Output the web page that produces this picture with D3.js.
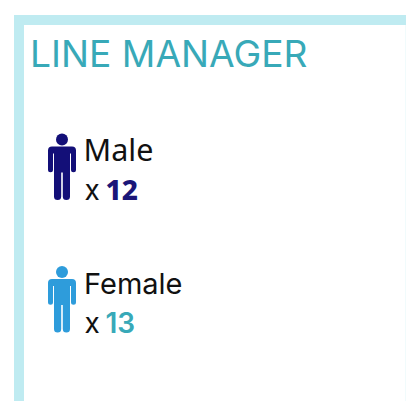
<!DOCTYPE html>
<html>
<head>
<meta charset="utf-8">
<script src="https://cdn.jsdelivr.net/npm/d3@7"></script>
<style>
html, body { margin: 0; padding: 0; background: #fff; overflow: hidden; }
svg { display: block; }
</style>
</head>
<body>
<svg width="406" height="401"></svg>
<script>
// data
var title = "LINE MANAGER";
var categories = ["Male", "Female"];
var counts = [12, 13];
var iconColors = ["#130f78", "#2e9cdb"];
var countColors = ["#1a1678", "#38a9b8"];
var labelFonts = ["'Noto Sans', sans-serif", "Inter, sans-serif"];
var labelSizes = [30.5, 29];
var labelLeft = [83.5, 84];
var countFonts = ["'Noto Sans', sans-serif", "Inter, sans-serif"];
var countWeights = [800, 600];

var svg = d3.select("svg"),
    width = +svg.attr("width"),
    height = +svg.attr("height");

// the frame only shows on top and left, runs off the page on the other sides
svg.append("path")
    .attr("d", "M19,401V20H406")
    .attr("fill", "none")
    .attr("stroke", "#bfebf1")
    .attr("stroke-width", 10);

// thin tail of the frame on the right edge
svg.append("rect")
    .attr("x", 405).attr("y", 25).attr("width", 1).attr("height", 376)
    .attr("fill", "#f1fbfc");

svg.append("text")
    .attr("x", 30)
    .attr("y", 67)
    .attr("font-family", "Inter, sans-serif")
    .attr("font-size", 37.2)
    .attr("fill", "#38a9b8")
    .text(title);

// rows are spaced by a point scale
var y = d3.scalePoint().domain(categories).range([0, 132.5]);

var row = svg.append("g")
    .selectAll("g")
    .data(categories)
    .enter().append("g")
    .attr("transform", function (d) { return "translate(0," + y(d) + ")"; });

// person icon
var personPath = "M52,146.5H72Q76,146.5 76,150.5V169.8A2.5,2.5 0 0 1 71,169.8V153.5H70V196.5A3.6,3.6 0 0 1 62.8,196.5V172.5H61.2V196.5A3.6,3.6 0 0 1 54,196.5V153.5H53V169.8A2.5,2.5 0 0 1 48,169.8V150.5Q48,146.5 52,146.5Z";

row.append("circle")
    .attr("cx", 62)
    .attr("cy", 139.5)
    .attr("r", 6)
    .attr("fill", function (d, i) { return iconColors[i]; });

row.append("path")
    .attr("d", personPath)
    .attr("fill", function (d, i) { return iconColors[i]; });

row.append("text")
    .attr("x", function (d, i) { return labelLeft[i]; })
    .attr("y", 161)
    .attr("font-family", function (d, i) { return labelFonts[i]; })
    .attr("font-size", function (d, i) { return labelSizes[i]; })
    .attr("fill", "#111")
    .text(function (d) { return d; });

var countText = row.append("text")
    .attr("y", 200)
    .attr("font-size", 28)
    .attr("fill", "#111");

countText.append("tspan")
    .attr("x", 84.5)
    .attr("font-family", "Inter, sans-serif")
    .text("x");

countText.append("tspan")
    .attr("x", 105.5)
    .attr("font-family", function (d, i) { return countFonts[i]; })
    .attr("font-weight", function (d, i) { return countWeights[i]; })
    .attr("fill", function (d, i) { return countColors[i]; })
    .text(function (d, i) { return counts[i]; });
</script>
</body>
</html>
